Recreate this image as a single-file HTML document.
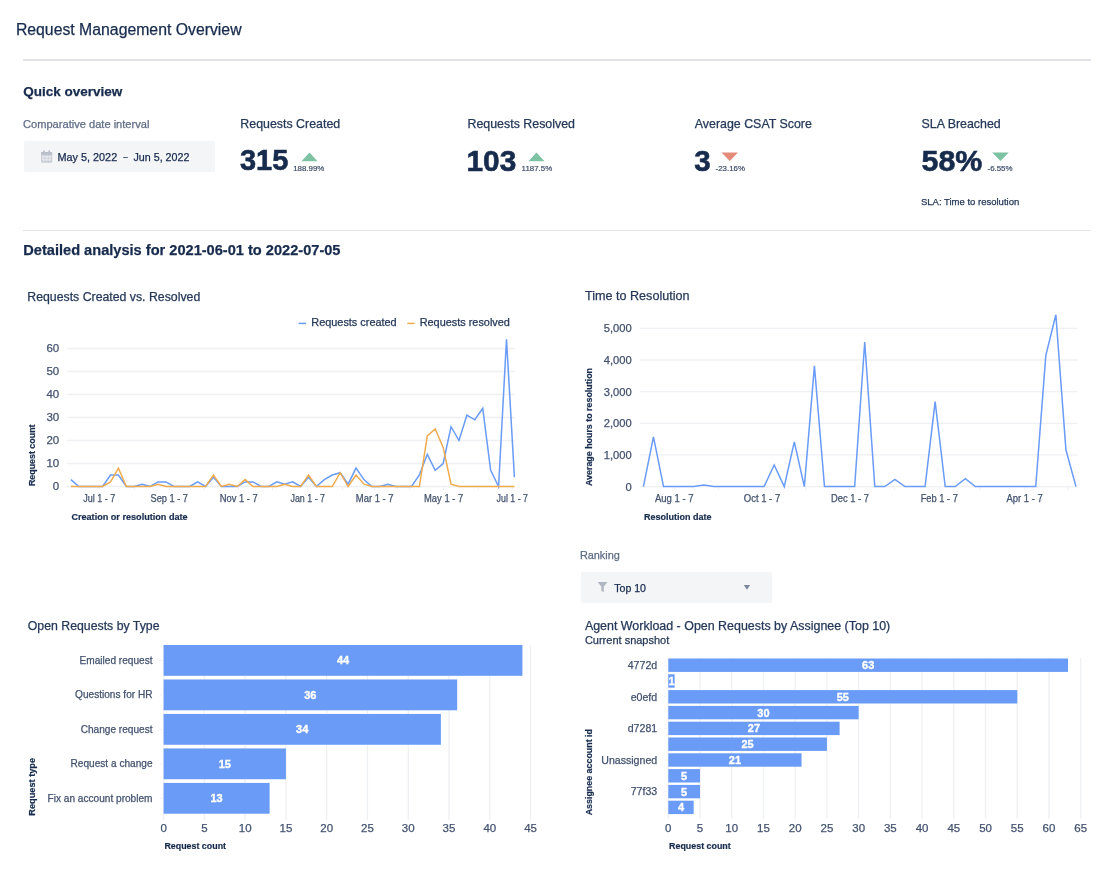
<!DOCTYPE html>
<html><head><meta charset="utf-8"><title>Request Management Overview</title>
<style>
html,body{margin:0;padding:0;background:#fff;}
body{width:1114px;height:881px;position:relative;overflow:hidden;font-family:"Liberation Sans",sans-serif;-webkit-font-smoothing:antialiased;}
#wrap{position:absolute;left:0;top:0;width:1114px;height:881px;will-change:transform;filter:blur(0.3px);}
.t{position:absolute;white-space:nowrap;-webkit-text-stroke:0.25px currentColor;}
.abs{position:absolute;}
.hr{position:absolute;left:23px;width:1068px;height:1.5px;background:#E1E3E8;}
.box{position:absolute;background:#F4F5F7;border-radius:2px;}
svg text{font-family:"Liberation Sans",sans-serif;}
</style></head>
<body><div id="wrap">
<div class="t" style="left:15.9px;top:21.53px;font-size:15.8px;line-height:15.8px;color:#172B4D;">Request Management Overview</div>
<div class="hr" style="top:59px"></div>
<div class="t" style="left:23.3px;top:84.87px;font-size:13.5px;line-height:13.5px;color:#172B4D;font-weight:700;">Quick overview</div>
<div class="t" style="left:23.0px;top:118.60px;font-size:11.1px;line-height:11.1px;color:#5E6C84;">Comparative date interval</div>
<div class="box" style="left:24px;top:141px;width:191px;height:31px"></div>
<svg class="abs" style="left:40.9px;top:150px" width="12" height="13" viewBox="0 0 12 13">
<rect x="0" y="2" width="11.2" height="10.7" rx="1.2" fill="#C9CED6"/>
<rect x="0" y="2" width="11.2" height="2.8" rx="1" fill="#B9C0CA"/>
<rect x="2.1" y="0.3" width="1.8" height="3" rx="0.6" fill="#BCC2CC"/><rect x="7.3" y="0.3" width="1.8" height="3" rx="0.6" fill="#BCC2CC"/>
<g fill="#E6E9ED"><rect x="1.1" y="5.6" width="2.6" height="2.2"/><rect x="4.3" y="5.6" width="2.6" height="2.2"/><rect x="7.5" y="5.6" width="2.6" height="2.2"/>
<rect x="1.1" y="8.5" width="2.6" height="2.2"/><rect x="4.3" y="8.5" width="2.6" height="2.2"/><rect x="7.5" y="8.5" width="2.6" height="2.2"/></g>
</svg>
<div class="t" style="left:57.5px;top:151.62px;font-size:10.85px;line-height:10.85px;color:#172B4D;">May 5, 2022</div>
<div class="t" style="left:123.3px;top:152.83px;font-size:8px;line-height:8px;color:#172B4D;">–</div>
<div class="t" style="left:133.5px;top:151.74px;font-size:10.7px;line-height:10.7px;color:#172B4D;">Jun 5, 2022</div>
<div class="t" style="left:240.3px;top:117.80px;font-size:12.4px;line-height:12.4px;color:#253858;">Requests Created</div>
<div class="t" style="left:239.9px;top:146.25px;font-size:29.0px;line-height:29.0px;color:#172B4D;font-weight:700;-webkit-text-stroke:0.6px #172B4D;">315</div>
<svg class="abs" style="left:0;top:0" width="1114" height="200"><polygon points="301.5,161.3 317.5,161.3 309.5,152.4" fill="#7DC2A2"/></svg>
<div class="t" style="left:293.2px;top:164.51px;font-size:7.9px;line-height:7.9px;color:#3E4D68;-webkit-text-stroke:0.2px #3E4D68;">188.99%</div>
<div class="t" style="left:467.5px;top:117.80px;font-size:12.4px;line-height:12.4px;color:#253858;">Requests Resolved</div>
<div class="t" style="left:466.5px;top:145.53px;font-size:29.85px;line-height:29.85px;color:#172B4D;font-weight:700;-webkit-text-stroke:0.6px #172B4D;">103</div>
<svg class="abs" style="left:0;top:0" width="1114" height="200"><polygon points="528.5,161.3 544.5,161.3 536.5,152.4" fill="#7DC2A2"/></svg>
<div class="t" style="left:521.6px;top:164.51px;font-size:7.9px;line-height:7.9px;color:#3E4D68;-webkit-text-stroke:0.2px #3E4D68;">1187.5%</div>
<div class="t" style="left:694.8px;top:117.80px;font-size:12.4px;line-height:12.4px;color:#253858;">Average CSAT Score</div>
<div class="t" style="left:694.2px;top:145.83px;font-size:29.5px;line-height:29.5px;color:#172B4D;font-weight:700;-webkit-text-stroke:0.6px #172B4D;">3</div>
<svg class="abs" style="left:0;top:0" width="1114" height="200"><polygon points="721.5,152.4 738.0,152.4 729.75,161" fill="#E38C7C"/></svg>
<div class="t" style="left:715.6px;top:164.51px;font-size:7.9px;line-height:7.9px;color:#3E4D68;-webkit-text-stroke:0.2px #3E4D68;">-23.16%</div>
<div class="t" style="left:921.5px;top:117.80px;font-size:12.4px;line-height:12.4px;color:#253858;">SLA Breached</div>
<div class="t" style="left:921.5px;top:145.07px;font-size:30.4px;line-height:30.4px;color:#172B4D;font-weight:700;-webkit-text-stroke:0.6px #172B4D;">58%</div>
<svg class="abs" style="left:0;top:0" width="1114" height="200"><polygon points="992.2,152.4 1008.7,152.4 1000.45,161" fill="#7DC2A2"/></svg>
<div class="t" style="left:987.5px;top:164.51px;font-size:7.9px;line-height:7.9px;color:#3E4D68;-webkit-text-stroke:0.2px #3E4D68;">-6.55%</div>
<div class="t" style="left:921.0px;top:197.36px;font-size:9.5px;line-height:9.5px;color:#253858;">SLA: Time to resolution</div>
<div class="hr" style="top:229.5px"></div>
<div class="t" style="left:23.3px;top:242.64px;font-size:14.6px;line-height:14.6px;color:#172B4D;font-weight:700;">Detailed analysis for 2021-06-01 to 2022-07-05</div>
<div class="t" style="left:27.3px;top:290.89px;font-size:12.3px;line-height:12.3px;color:#253858;">Requests Created vs. Resolved</div>
<div class="t" style="left:585.0px;top:290.43px;font-size:12.6px;line-height:12.6px;color:#253858;">Time to Resolution</div>
<div class="t" style="left:311.3px;top:317.27px;font-size:10.9px;line-height:10.9px;color:#253858;">Requests created</div>
<div class="t" style="left:419.7px;top:317.27px;font-size:10.9px;line-height:10.9px;color:#253858;">Requests resolved</div>
<div class="t" style="left:579.9px;top:549.57px;font-size:10.9px;line-height:10.9px;color:#5E6C84;">Ranking</div>
<div class="box" style="left:581px;top:572px;width:191px;height:31px"></div>
<div class="t" style="left:614.2px;top:583.33px;font-size:10.6px;line-height:10.6px;color:#172B4D;">Top 10</div>
<div class="t" style="left:27.8px;top:620.09px;font-size:12.3px;line-height:12.3px;color:#253858;">Open Requests by Type</div>
<div class="t" style="left:584.9px;top:619.66px;font-size:12.45px;line-height:12.45px;color:#253858;">Agent Workload - Open Requests by Assignee (Top 10)</div>
<div class="t" style="left:584.9px;top:635.19px;font-size:11.0px;line-height:11.0px;color:#253858;">Current snapshot</div>
<svg class="abs" style="left:0;top:0" width="1114" height="881" viewBox="0 0 1114 881">
<line x1="298.7" y1="323.4" x2="306.1" y2="323.4" stroke="#699BF7" stroke-width="1.5"/>
<line x1="407.3" y1="323.4" x2="414.7" y2="323.4" stroke="#EFAB4E" stroke-width="1.5"/>
<line x1="67.3" y1="486.50" x2="514.9" y2="486.50" stroke="#EFF0F3" stroke-width="1.3"/>
<text x="59.2" y="490.10" text-anchor="end" font-size="11.5" fill="#42526E" stroke="#42526E" stroke-width="0.25">0</text>
<line x1="67.3" y1="463.50" x2="514.9" y2="463.50" stroke="#EFF0F3" stroke-width="1.3"/>
<text x="59.2" y="467.10" text-anchor="end" font-size="11.5" fill="#42526E" stroke="#42526E" stroke-width="0.25">10</text>
<line x1="67.3" y1="440.50" x2="514.9" y2="440.50" stroke="#EFF0F3" stroke-width="1.3"/>
<text x="59.2" y="444.10" text-anchor="end" font-size="11.5" fill="#42526E" stroke="#42526E" stroke-width="0.25">20</text>
<line x1="67.3" y1="417.50" x2="514.9" y2="417.50" stroke="#EFF0F3" stroke-width="1.3"/>
<text x="59.2" y="421.10" text-anchor="end" font-size="11.5" fill="#42526E" stroke="#42526E" stroke-width="0.25">30</text>
<line x1="67.3" y1="394.50" x2="514.9" y2="394.50" stroke="#EFF0F3" stroke-width="1.3"/>
<text x="59.2" y="398.10" text-anchor="end" font-size="11.5" fill="#42526E" stroke="#42526E" stroke-width="0.25">40</text>
<line x1="67.3" y1="371.50" x2="514.9" y2="371.50" stroke="#EFF0F3" stroke-width="1.3"/>
<text x="59.2" y="375.10" text-anchor="end" font-size="11.5" fill="#42526E" stroke="#42526E" stroke-width="0.25">50</text>
<line x1="67.3" y1="348.50" x2="514.9" y2="348.50" stroke="#EFF0F3" stroke-width="1.3"/>
<text x="59.2" y="352.10" text-anchor="end" font-size="11.5" fill="#42526E" stroke="#42526E" stroke-width="0.25">60</text>
<line x1="99.3" y1="487" x2="99.3" y2="490" stroke="#EFF0F3" stroke-width="1"/>
<line x1="134.5" y1="487" x2="134.5" y2="490" stroke="#EFF0F3" stroke-width="1"/>
<line x1="169.5" y1="487" x2="169.5" y2="490" stroke="#EFF0F3" stroke-width="1"/>
<line x1="203.8" y1="487" x2="203.8" y2="490" stroke="#EFF0F3" stroke-width="1"/>
<line x1="238.6" y1="487" x2="238.6" y2="490" stroke="#EFF0F3" stroke-width="1"/>
<line x1="272.5" y1="487" x2="272.5" y2="490" stroke="#EFF0F3" stroke-width="1"/>
<line x1="307.5" y1="487" x2="307.5" y2="490" stroke="#EFF0F3" stroke-width="1"/>
<line x1="342.6" y1="487" x2="342.6" y2="490" stroke="#EFF0F3" stroke-width="1"/>
<line x1="374.7" y1="487" x2="374.7" y2="490" stroke="#EFF0F3" stroke-width="1"/>
<line x1="409.6" y1="487" x2="409.6" y2="490" stroke="#EFF0F3" stroke-width="1"/>
<line x1="443.5" y1="487" x2="443.5" y2="490" stroke="#EFF0F3" stroke-width="1"/>
<line x1="478.3" y1="487" x2="478.3" y2="490" stroke="#EFF0F3" stroke-width="1"/>
<line x1="512.5" y1="487" x2="512.5" y2="490" stroke="#EFF0F3" stroke-width="1"/>
<text x="83.3" y="502.2" font-size="10" textLength="32.0" lengthAdjust="spacingAndGlyphs" fill="#42526E" stroke="#42526E" stroke-width="0.25">Jul 1 - 7</text>
<text x="150.5" y="502.2" font-size="10" textLength="37.5" lengthAdjust="spacingAndGlyphs" fill="#42526E" stroke="#42526E" stroke-width="0.25">Sep 1 - 7</text>
<text x="219.7" y="502.2" font-size="10" textLength="38.0" lengthAdjust="spacingAndGlyphs" fill="#42526E" stroke="#42526E" stroke-width="0.25">Nov 1 - 7</text>
<text x="290.5" y="502.2" font-size="10" textLength="34.5" lengthAdjust="spacingAndGlyphs" fill="#42526E" stroke="#42526E" stroke-width="0.25">Jan 1 - 7</text>
<text x="355.8" y="502.2" font-size="10" textLength="37.8" lengthAdjust="spacingAndGlyphs" fill="#42526E" stroke="#42526E" stroke-width="0.25">Mar 1 - 7</text>
<text x="424" y="502.2" font-size="10" textLength="39.2" lengthAdjust="spacingAndGlyphs" fill="#42526E" stroke="#42526E" stroke-width="0.25">May 1 - 7</text>
<text x="496.6" y="502.2" font-size="10" textLength="31.4" lengthAdjust="spacingAndGlyphs" fill="#42526E" stroke="#42526E" stroke-width="0.25">Jul 1 - 7</text>
<text x="71.4" y="520.2" font-size="9.1" font-weight="700" fill="#172B4D" stroke="#172B4D" stroke-width="0.2">Creation or resolution date</text>
<text transform="translate(34.8,455.3) rotate(-90)" text-anchor="middle" font-size="8.9" font-weight="700" fill="#172B4D" stroke="#172B4D" stroke-width="0.2">Request count</text>
<polyline points="70.90,479.60 78.82,486.50 86.74,486.50 94.66,486.50 102.58,486.50 110.50,475.00 118.42,475.00 126.34,486.50 134.26,486.50 142.18,484.20 150.10,486.50 158.02,481.90 165.94,481.90 173.86,486.50 181.78,486.50 189.70,486.50 197.62,481.90 205.54,486.50 213.46,477.30 221.38,486.50 229.30,486.50 237.22,486.50 245.14,481.90 253.06,481.90 260.98,486.50 268.90,486.50 276.82,481.90 284.74,484.20 292.66,481.90 300.58,486.50 308.50,477.30 316.42,486.50 324.34,479.60 332.26,475.00 340.18,472.70 348.10,484.20 356.02,468.10 363.94,479.60 371.86,486.50 379.78,486.50 387.70,484.20 395.62,486.50 403.54,486.50 411.46,486.50 419.38,475.00 427.30,454.30 435.22,470.40 443.14,463.50 451.06,426.70 458.98,440.50 466.90,415.20 474.82,419.80 482.74,408.30 490.66,470.40 498.58,486.50 506.50,339.30 514.42,477.30" fill="none" stroke="#699BF7" stroke-width="1.5" stroke-linejoin="miter"/>
<polyline points="70.90,486.50 78.82,486.50 86.74,486.50 94.66,486.50 102.58,486.50 110.50,481.90 118.42,468.10 126.34,486.50 134.26,486.50 142.18,486.50 150.10,486.50 158.02,484.20 165.94,486.50 173.86,486.50 181.78,486.50 189.70,486.50 197.62,486.50 205.54,486.50 213.46,475.00 221.38,486.50 229.30,484.20 237.22,486.50 245.14,479.60 253.06,486.50 260.98,486.50 268.90,486.50 276.82,486.50 284.74,484.20 292.66,486.50 300.58,486.50 308.50,475.00 316.42,486.50 324.34,486.50 332.26,486.50 340.18,472.70 348.10,486.50 356.02,475.00 363.94,484.20 371.86,486.50 379.78,486.50 387.70,486.50 395.62,486.50 403.54,486.50 411.46,486.50 419.38,486.50 427.30,435.90 435.22,429.00 443.14,447.40 451.06,484.20 458.98,486.50 466.90,486.50 474.82,486.50 482.74,486.50 490.66,486.50 498.58,486.50 506.50,486.50 514.42,486.50" fill="none" stroke="#EFAB4E" stroke-width="1.5" stroke-linejoin="miter"/>
<line x1="639.8" y1="486.60" x2="1077.5" y2="486.60" stroke="#EFF0F3" stroke-width="1.3"/>
<text x="631.7" y="490.60" text-anchor="end" font-size="11.2" fill="#42526E" stroke="#42526E" stroke-width="0.25">0</text>
<line x1="639.8" y1="454.95" x2="1077.5" y2="454.95" stroke="#EFF0F3" stroke-width="1.3"/>
<text x="631.7" y="458.95" text-anchor="end" font-size="11.2" fill="#42526E" stroke="#42526E" stroke-width="0.25">1,000</text>
<line x1="639.8" y1="423.30" x2="1077.5" y2="423.30" stroke="#EFF0F3" stroke-width="1.3"/>
<text x="631.7" y="427.30" text-anchor="end" font-size="11.2" fill="#42526E" stroke="#42526E" stroke-width="0.25">2,000</text>
<line x1="639.8" y1="391.65" x2="1077.5" y2="391.65" stroke="#EFF0F3" stroke-width="1.3"/>
<text x="631.7" y="395.65" text-anchor="end" font-size="11.2" fill="#42526E" stroke="#42526E" stroke-width="0.25">3,000</text>
<line x1="639.8" y1="360.00" x2="1077.5" y2="360.00" stroke="#EFF0F3" stroke-width="1.3"/>
<text x="631.7" y="364.00" text-anchor="end" font-size="11.2" fill="#42526E" stroke="#42526E" stroke-width="0.25">4,000</text>
<line x1="639.8" y1="328.35" x2="1077.5" y2="328.35" stroke="#EFF0F3" stroke-width="1.3"/>
<text x="631.7" y="332.35" text-anchor="end" font-size="11.2" fill="#42526E" stroke="#42526E" stroke-width="0.25">5,000</text>
<line x1="674.2" y1="487" x2="674.2" y2="490" stroke="#EFF0F3" stroke-width="1"/>
<line x1="718.5" y1="487" x2="718.5" y2="490" stroke="#EFF0F3" stroke-width="1"/>
<line x1="762" y1="487" x2="762" y2="490" stroke="#EFF0F3" stroke-width="1"/>
<line x1="806" y1="487" x2="806" y2="490" stroke="#EFF0F3" stroke-width="1"/>
<line x1="849.5" y1="487" x2="849.5" y2="490" stroke="#EFF0F3" stroke-width="1"/>
<line x1="894.5" y1="487" x2="894.5" y2="490" stroke="#EFF0F3" stroke-width="1"/>
<line x1="939.4" y1="487" x2="939.4" y2="490" stroke="#EFF0F3" stroke-width="1"/>
<line x1="979.7" y1="487" x2="979.7" y2="490" stroke="#EFF0F3" stroke-width="1"/>
<line x1="1024.6" y1="487" x2="1024.6" y2="490" stroke="#EFF0F3" stroke-width="1"/>
<line x1="1067.8" y1="487" x2="1067.8" y2="490" stroke="#EFF0F3" stroke-width="1"/>
<text x="654.9" y="502.2" font-size="10" textLength="38.8" lengthAdjust="spacingAndGlyphs" fill="#42526E" stroke="#42526E" stroke-width="0.25">Aug 1 - 7</text>
<text x="743.8" y="502.2" font-size="10" textLength="36.4" lengthAdjust="spacingAndGlyphs" fill="#42526E" stroke="#42526E" stroke-width="0.25">Oct 1 - 7</text>
<text x="831" y="502.2" font-size="10" textLength="38.0" lengthAdjust="spacingAndGlyphs" fill="#42526E" stroke="#42526E" stroke-width="0.25">Dec 1 - 7</text>
<text x="920.7" y="502.2" font-size="10" textLength="37.2" lengthAdjust="spacingAndGlyphs" fill="#42526E" stroke="#42526E" stroke-width="0.25">Feb 1 - 7</text>
<text x="1006.4" y="502.2" font-size="10" textLength="36.3" lengthAdjust="spacingAndGlyphs" fill="#42526E" stroke="#42526E" stroke-width="0.25">Apr 1 - 7</text>
<text x="643.9" y="520.1" font-size="9.0" font-weight="700" fill="#172B4D" stroke="#172B4D" stroke-width="0.2">Resolution date</text>
<text transform="translate(592.3,427) rotate(-90)" text-anchor="middle" font-size="8.9" font-weight="700" fill="#172B4D" stroke="#172B4D" stroke-width="0.2">Average hours to resolution</text>
<polyline points="643.40,486.60 653.46,436.88 663.52,486.60 673.58,486.60 683.64,486.60 693.70,486.60 703.76,485.02 713.82,486.60 723.88,486.60 733.94,486.60 744.00,486.60 754.06,486.60 764.12,486.60 774.18,465.05 784.24,486.60 794.30,441.88 804.36,486.60 814.42,365.82 824.48,486.60 834.54,486.60 844.60,486.60 854.66,486.60 864.72,341.96 874.78,486.60 884.84,486.60 894.90,479.32 904.96,486.60 915.02,486.60 925.08,486.60 935.14,401.68 945.20,486.60 955.26,486.60 965.32,478.66 975.38,486.60 985.44,486.60 995.50,486.60 1005.56,486.60 1015.62,486.60 1025.68,486.60 1035.74,486.60 1045.80,355.60 1055.86,314.74 1065.92,449.82 1075.98,486.60" fill="none" stroke="#699BF7" stroke-width="1.5"/>
<path d="M597.6,582 L607.5,582 L603.8,586.5 L603.8,592.3 L601.3,590.8 L601.3,586.5 Z" fill="#B0B7C3"/>
<path d="M743.8,585 L750.1,585 L746.95,589.8 Z" fill="#7A869A"/>
<line x1="163.60" y1="645" x2="163.60" y2="820" stroke="#EFF0F3" stroke-width="1.3"/>
<text x="163.60" y="831.6" text-anchor="middle" font-size="11.5" fill="#42526E" stroke="#42526E" stroke-width="0.25">0</text>
<line x1="204.38" y1="645" x2="204.38" y2="820" stroke="#EFF0F3" stroke-width="1.3"/>
<text x="204.38" y="831.6" text-anchor="middle" font-size="11.5" fill="#42526E" stroke="#42526E" stroke-width="0.25">5</text>
<line x1="245.15" y1="645" x2="245.15" y2="820" stroke="#EFF0F3" stroke-width="1.3"/>
<text x="245.15" y="831.6" text-anchor="middle" font-size="11.5" fill="#42526E" stroke="#42526E" stroke-width="0.25">10</text>
<line x1="285.92" y1="645" x2="285.92" y2="820" stroke="#EFF0F3" stroke-width="1.3"/>
<text x="285.92" y="831.6" text-anchor="middle" font-size="11.5" fill="#42526E" stroke="#42526E" stroke-width="0.25">15</text>
<line x1="326.70" y1="645" x2="326.70" y2="820" stroke="#EFF0F3" stroke-width="1.3"/>
<text x="326.70" y="831.6" text-anchor="middle" font-size="11.5" fill="#42526E" stroke="#42526E" stroke-width="0.25">20</text>
<line x1="367.47" y1="645" x2="367.47" y2="820" stroke="#EFF0F3" stroke-width="1.3"/>
<text x="367.47" y="831.6" text-anchor="middle" font-size="11.5" fill="#42526E" stroke="#42526E" stroke-width="0.25">25</text>
<line x1="408.25" y1="645" x2="408.25" y2="820" stroke="#EFF0F3" stroke-width="1.3"/>
<text x="408.25" y="831.6" text-anchor="middle" font-size="11.5" fill="#42526E" stroke="#42526E" stroke-width="0.25">30</text>
<line x1="449.02" y1="645" x2="449.02" y2="820" stroke="#EFF0F3" stroke-width="1.3"/>
<text x="449.02" y="831.6" text-anchor="middle" font-size="11.5" fill="#42526E" stroke="#42526E" stroke-width="0.25">35</text>
<line x1="489.80" y1="645" x2="489.80" y2="820" stroke="#EFF0F3" stroke-width="1.3"/>
<text x="489.80" y="831.6" text-anchor="middle" font-size="11.5" fill="#42526E" stroke="#42526E" stroke-width="0.25">40</text>
<line x1="530.57" y1="645" x2="530.57" y2="820" stroke="#EFF0F3" stroke-width="1.3"/>
<text x="530.57" y="831.6" text-anchor="middle" font-size="11.5" fill="#42526E" stroke="#42526E" stroke-width="0.25">45</text>
<rect x="163.6" y="645.00" width="358.82" height="30.8" fill="#699BF7"/>
<text x="343.01" y="664.40" text-anchor="middle" font-size="11" font-weight="700" fill="#fff" stroke="#fff" stroke-width="0.35">44</text>
<text x="152.5" y="664.00" text-anchor="end" font-size="10.1" fill="#42526E" stroke="#42526E" stroke-width="0.25">Emailed request</text>
<line x1="159.5" y1="660.40" x2="162" y2="660.40" stroke="#EFF0F3" stroke-width="1"/>
<rect x="163.6" y="679.48" width="293.58" height="30.8" fill="#699BF7"/>
<text x="310.39" y="698.88" text-anchor="middle" font-size="11" font-weight="700" fill="#fff" stroke="#fff" stroke-width="0.35">36</text>
<text x="152.5" y="698.48" text-anchor="end" font-size="10.1" fill="#42526E" stroke="#42526E" stroke-width="0.25">Questions for HR</text>
<line x1="159.5" y1="694.88" x2="162" y2="694.88" stroke="#EFF0F3" stroke-width="1"/>
<rect x="163.6" y="713.96" width="277.27" height="30.8" fill="#699BF7"/>
<text x="302.24" y="733.36" text-anchor="middle" font-size="11" font-weight="700" fill="#fff" stroke="#fff" stroke-width="0.35">34</text>
<text x="152.5" y="732.96" text-anchor="end" font-size="10.1" fill="#42526E" stroke="#42526E" stroke-width="0.25">Change request</text>
<line x1="159.5" y1="729.36" x2="162" y2="729.36" stroke="#EFF0F3" stroke-width="1"/>
<rect x="163.6" y="748.44" width="122.32" height="30.8" fill="#699BF7"/>
<text x="224.76" y="767.84" text-anchor="middle" font-size="11" font-weight="700" fill="#fff" stroke="#fff" stroke-width="0.35">15</text>
<text x="152.5" y="767.44" text-anchor="end" font-size="10.1" fill="#42526E" stroke="#42526E" stroke-width="0.25">Request a change</text>
<line x1="159.5" y1="763.84" x2="162" y2="763.84" stroke="#EFF0F3" stroke-width="1"/>
<rect x="163.6" y="782.92" width="106.01" height="30.8" fill="#699BF7"/>
<text x="216.61" y="802.32" text-anchor="middle" font-size="11" font-weight="700" fill="#fff" stroke="#fff" stroke-width="0.35">13</text>
<text x="152.5" y="801.92" text-anchor="end" font-size="10.1" fill="#42526E" stroke="#42526E" stroke-width="0.25">Fix an account problem</text>
<line x1="159.5" y1="798.32" x2="162" y2="798.32" stroke="#EFF0F3" stroke-width="1"/>
<text x="164.4" y="848.9" font-size="8.9" font-weight="700" fill="#172B4D" stroke="#172B4D" stroke-width="0.2">Request count</text>
<text transform="translate(34.6,786.8) rotate(-90)" text-anchor="middle" font-size="9.2" font-weight="700" fill="#172B4D" stroke="#172B4D" stroke-width="0.2">Request type</text>
<line x1="668.30" y1="658" x2="668.30" y2="819" stroke="#EFF0F3" stroke-width="1.3"/>
<text x="668.30" y="831.7" text-anchor="middle" font-size="11.5" fill="#42526E" stroke="#42526E" stroke-width="0.25">0</text>
<line x1="700.02" y1="658" x2="700.02" y2="819" stroke="#EFF0F3" stroke-width="1.3"/>
<text x="700.02" y="831.7" text-anchor="middle" font-size="11.5" fill="#42526E" stroke="#42526E" stroke-width="0.25">5</text>
<line x1="731.75" y1="658" x2="731.75" y2="819" stroke="#EFF0F3" stroke-width="1.3"/>
<text x="731.75" y="831.7" text-anchor="middle" font-size="11.5" fill="#42526E" stroke="#42526E" stroke-width="0.25">10</text>
<line x1="763.47" y1="658" x2="763.47" y2="819" stroke="#EFF0F3" stroke-width="1.3"/>
<text x="763.47" y="831.7" text-anchor="middle" font-size="11.5" fill="#42526E" stroke="#42526E" stroke-width="0.25">15</text>
<line x1="795.20" y1="658" x2="795.20" y2="819" stroke="#EFF0F3" stroke-width="1.3"/>
<text x="795.20" y="831.7" text-anchor="middle" font-size="11.5" fill="#42526E" stroke="#42526E" stroke-width="0.25">20</text>
<line x1="826.92" y1="658" x2="826.92" y2="819" stroke="#EFF0F3" stroke-width="1.3"/>
<text x="826.92" y="831.7" text-anchor="middle" font-size="11.5" fill="#42526E" stroke="#42526E" stroke-width="0.25">25</text>
<line x1="858.65" y1="658" x2="858.65" y2="819" stroke="#EFF0F3" stroke-width="1.3"/>
<text x="858.65" y="831.7" text-anchor="middle" font-size="11.5" fill="#42526E" stroke="#42526E" stroke-width="0.25">30</text>
<line x1="890.38" y1="658" x2="890.38" y2="819" stroke="#EFF0F3" stroke-width="1.3"/>
<text x="890.38" y="831.7" text-anchor="middle" font-size="11.5" fill="#42526E" stroke="#42526E" stroke-width="0.25">35</text>
<line x1="922.10" y1="658" x2="922.10" y2="819" stroke="#EFF0F3" stroke-width="1.3"/>
<text x="922.10" y="831.7" text-anchor="middle" font-size="11.5" fill="#42526E" stroke="#42526E" stroke-width="0.25">40</text>
<line x1="953.82" y1="658" x2="953.82" y2="819" stroke="#EFF0F3" stroke-width="1.3"/>
<text x="953.82" y="831.7" text-anchor="middle" font-size="11.5" fill="#42526E" stroke="#42526E" stroke-width="0.25">45</text>
<line x1="985.55" y1="658" x2="985.55" y2="819" stroke="#EFF0F3" stroke-width="1.3"/>
<text x="985.55" y="831.7" text-anchor="middle" font-size="11.5" fill="#42526E" stroke="#42526E" stroke-width="0.25">50</text>
<line x1="1017.27" y1="658" x2="1017.27" y2="819" stroke="#EFF0F3" stroke-width="1.3"/>
<text x="1017.27" y="831.7" text-anchor="middle" font-size="11.5" fill="#42526E" stroke="#42526E" stroke-width="0.25">55</text>
<line x1="1049.00" y1="658" x2="1049.00" y2="819" stroke="#EFF0F3" stroke-width="1.3"/>
<text x="1049.00" y="831.7" text-anchor="middle" font-size="11.5" fill="#42526E" stroke="#42526E" stroke-width="0.25">60</text>
<line x1="1080.72" y1="658" x2="1080.72" y2="819" stroke="#EFF0F3" stroke-width="1.3"/>
<text x="1080.72" y="831.7" text-anchor="middle" font-size="11.5" fill="#42526E" stroke="#42526E" stroke-width="0.25">65</text>
<rect x="668.3" y="658.50" width="399.73" height="13.4" fill="#699BF7"/>
<text x="868.17" y="669.20" text-anchor="middle" font-size="11" font-weight="700" fill="#fff" stroke="#fff" stroke-width="0.35">63</text>
<text x="657.2" y="669.00" text-anchor="end" font-size="10.6" fill="#42526E" stroke="#42526E" stroke-width="0.25">4772d</text>
<line x1="664" y1="665.20" x2="666.5" y2="665.20" stroke="#EFF0F3" stroke-width="1"/>
<rect x="668.3" y="674.30" width="6.34" height="13.4" fill="#699BF7"/>
<text x="671.47" y="685.00" text-anchor="middle" font-size="11" font-weight="700" fill="#fff" stroke="#fff" stroke-width="0.35">1</text>
<rect x="668.3" y="690.10" width="348.97" height="13.4" fill="#699BF7"/>
<text x="842.79" y="700.80" text-anchor="middle" font-size="11" font-weight="700" fill="#fff" stroke="#fff" stroke-width="0.35">55</text>
<text x="657.2" y="700.60" text-anchor="end" font-size="10.6" fill="#42526E" stroke="#42526E" stroke-width="0.25">e0efd</text>
<line x1="664" y1="696.80" x2="666.5" y2="696.80" stroke="#EFF0F3" stroke-width="1"/>
<rect x="668.3" y="705.90" width="190.35" height="13.4" fill="#699BF7"/>
<text x="763.47" y="716.60" text-anchor="middle" font-size="11" font-weight="700" fill="#fff" stroke="#fff" stroke-width="0.35">30</text>
<rect x="668.3" y="721.70" width="171.31" height="13.4" fill="#699BF7"/>
<text x="753.96" y="732.40" text-anchor="middle" font-size="11" font-weight="700" fill="#fff" stroke="#fff" stroke-width="0.35">27</text>
<text x="657.2" y="732.20" text-anchor="end" font-size="10.6" fill="#42526E" stroke="#42526E" stroke-width="0.25">d7281</text>
<line x1="664" y1="728.40" x2="666.5" y2="728.40" stroke="#EFF0F3" stroke-width="1"/>
<rect x="668.3" y="737.50" width="158.62" height="13.4" fill="#699BF7"/>
<text x="747.61" y="748.20" text-anchor="middle" font-size="11" font-weight="700" fill="#fff" stroke="#fff" stroke-width="0.35">25</text>
<rect x="668.3" y="753.30" width="133.25" height="13.4" fill="#699BF7"/>
<text x="734.92" y="764.00" text-anchor="middle" font-size="11" font-weight="700" fill="#fff" stroke="#fff" stroke-width="0.35">21</text>
<text x="657.2" y="763.80" text-anchor="end" font-size="10.6" fill="#42526E" stroke="#42526E" stroke-width="0.25">Unassigned</text>
<line x1="664" y1="760.00" x2="666.5" y2="760.00" stroke="#EFF0F3" stroke-width="1"/>
<rect x="668.3" y="769.10" width="31.72" height="13.4" fill="#699BF7"/>
<text x="684.16" y="779.80" text-anchor="middle" font-size="11" font-weight="700" fill="#fff" stroke="#fff" stroke-width="0.35">5</text>
<rect x="668.3" y="784.90" width="31.72" height="13.4" fill="#699BF7"/>
<text x="684.16" y="795.60" text-anchor="middle" font-size="11" font-weight="700" fill="#fff" stroke="#fff" stroke-width="0.35">5</text>
<text x="657.2" y="795.40" text-anchor="end" font-size="10.6" fill="#42526E" stroke="#42526E" stroke-width="0.25">77f33</text>
<line x1="664" y1="791.60" x2="666.5" y2="791.60" stroke="#EFF0F3" stroke-width="1"/>
<rect x="668.3" y="800.70" width="25.38" height="13.4" fill="#699BF7"/>
<text x="680.99" y="811.40" text-anchor="middle" font-size="11" font-weight="700" fill="#fff" stroke="#fff" stroke-width="0.35">4</text>
<text x="669.1" y="849.1" font-size="8.9" font-weight="700" fill="#172B4D" stroke="#172B4D" stroke-width="0.2">Request count</text>
<text transform="translate(592.4,772.2) rotate(-90)" text-anchor="middle" font-size="8.9" font-weight="700" fill="#172B4D" stroke="#172B4D" stroke-width="0.2">Assignee account id</text>
</svg>
</div></body></html>
